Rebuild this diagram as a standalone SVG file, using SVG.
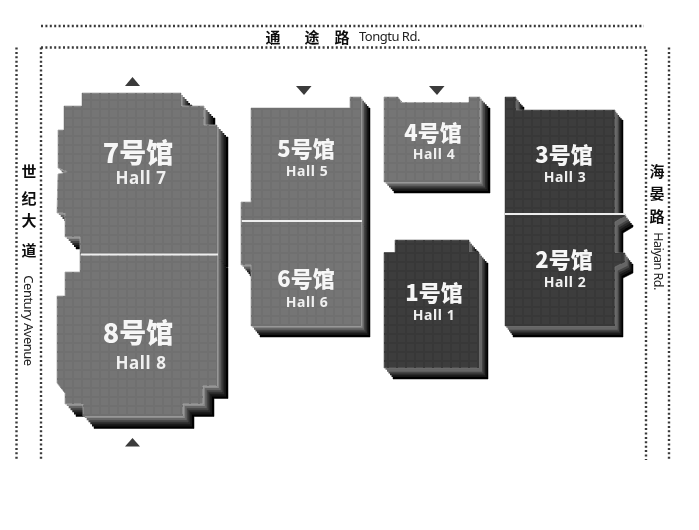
<svg xmlns="http://www.w3.org/2000/svg" width="699" height="530" viewBox="0 0 699 530">
<style>
.e1{fill:#000;stroke:#000;stroke-width:.5}.e2{fill:#161616}.e3{fill:#2a2a2a}.e4{fill:#444}.e5{fill:#666}.e6{fill:#8c8c8c}
.road{fill:none;stroke:#3a3a3a;stroke-width:2.4;stroke-dasharray:2 2.4}
.div{stroke:#eee;stroke-width:2}
.m{fill:#747474;stroke:#a8a8a8;stroke-width:.8}
.d{fill:#3d3d3d;stroke:#777;stroke-width:.7}
.mg{fill:url(#gm);stroke:none}.dg{fill:url(#gd);stroke:none}
.tri{fill:#3a3a3a}
text{font-family:"Noto Sans CJK SC","Noto Sans",sans-serif;text-anchor:middle}
.zh{fill:#f6f6f6;font-weight:900}
.en{fill:#f0f0f0;font-weight:700;font-family:"Noto Sans","Noto Sans CJK SC",sans-serif;letter-spacing:.6px}
.rz{fill:#111;font-size:15px;font-weight:700}
.re{fill:#222;font-size:13px;font-family:"Noto Sans",sans-serif;letter-spacing:-.5px}
</style>
<defs>
<filter id="soft" x="0" y="0" width="100%" height="100%"><feGaussianBlur stdDeviation=".45"/></filter>
<pattern id="gm" width="9" height="9" patternUnits="userSpaceOnUse"><path d="M0 1H9M1 0V9" stroke="#6f6f6f" stroke-width="2" fill="none"/></pattern>
<pattern id="gd" width="9" height="9" patternUnits="userSpaceOnUse"><path d="M0 1H9M1 0V9" stroke="#393939" stroke-width="2" fill="none"/></pattern>
<polygon id="s7" points="82,93 181,93 181,106 204,106 204,125 217,125 217,255 80,255 80,237 65,237 65,213 57,213 58,174 68,172 58,168 58,130 64,130 64,106 82,106"/>
<polygon id="s8" points="80,255 217,255 217,386 203,386 203,404 183,404 183,416 83,416 83,404 65,404 65,393 57,383 57,296 65,296 65,272 80,272"/>
<polygon id="s5" points="251,108 350,108 350,97 361,97 361,221 241,221 241,202 251,202"/>
<polygon id="s6" points="241,221 361,221 361,326 251,326 251,265 241,265"/>
<polygon id="s4" points="384,97 398,97 401,102.500 469,102.500 469,97 480,97 480,182 384,182"/>
<polygon id="s1" points="395,240 469,240 469,252 479,252 479,368 384,368 384,252.500 395,252.500"/>
<polygon id="s3" points="505,97 516,97 516,110 615,110 615,214 505,214"/>
<polygon id="s2" points="505,214 625,214 625,216 615,222 615,253 625,253 625,262 615,267 615,326 505,326"/>
</defs>
<g id="connectors">
<path class="road" d="M41 26H644"/>
<path class="road" d="M41 47.500H646V460"/>
<path class="road" d="M41 47.500V460"/>
<path class="road" d="M16.500 47.500V460"/>
<path class="road" d="M669 47.500V460"/>
</g>
<g filter="url(#soft)">
<g id="road-labels">
<text class="rz" x="273" y="43">通</text><text class="rz" x="312" y="43">途</text><text class="rz" x="342" y="43">路</text>
<text class="re" x="389.500" y="41">Tongtu Rd.</text>
<text class="rz" x="29" y="177">世</text><text class="rz" x="29" y="204">纪</text><text class="rz" x="29" y="226">大</text><text class="rz" x="29" y="256">道</text>
<text class="re" transform="translate(24,320.500) rotate(90)">Century Avenue</text>
<text class="rz" x="657" y="177">海</text><text class="rz" x="657" y="199">晏</text><text class="rz" x="657" y="222">路</text>
<text class="re" style="font-size:12.500px" transform="translate(654,261) rotate(90)">Haiyan Rd.</text>
</g>
<g id="hall-7">
<use href="#s7" x="11" y="12" class="e1"/><use href="#s7" x="9" y="10" class="e2"/><use href="#s7" x="7.300" y="8" class="e3"/><use href="#s7" x="5.500" y="6" class="e4"/><use href="#s7" x="3.700" y="4" class="e5"/><use href="#s7" x="1.800" y="2" class="e6"/>
<use href="#s7" class="m"/><use href="#s7" class="mg"/>
<text class="zh" x="138" y="163" font-size="27">7号馆</text><text class="en" x="141" y="184" font-size="17">Hall 7</text>
</g>
<g id="hall-8">
<use href="#s8" x="11" y="12.500" class="e1"/><use href="#s8" x="9" y="10.400" class="e2"/><use href="#s8" x="7.300" y="8.300" class="e3"/><use href="#s8" x="5.500" y="6.200" class="e4"/><use href="#s8" x="3.700" y="4.200" class="e5"/><use href="#s8" x="1.800" y="2.100" class="e6"/>
<use href="#s8" class="m"/><use href="#s8" class="mg"/>
<text class="zh" x="138" y="343" font-size="27">8号馆</text><text class="en" x="141" y="369" font-size="17">Hall 8</text>
<line class="div" x1="81" y1="254.500" x2="218" y2="254.500"/>
</g>
<g id="hall-5">
<use href="#s5" x="9" y="11" class="e1"/><use href="#s5" x="7.500" y="9" class="e2"/><use href="#s5" x="6" y="7.300" class="e3"/><use href="#s5" x="4.500" y="5.500" class="e4"/><use href="#s5" x="3" y="3.700" class="e5"/><use href="#s5" x="1.500" y="1.800" class="e6"/>
<use href="#s5" class="m"/><use href="#s5" class="mg"/>
<text class="zh" x="306" y="157" font-size="22">5号馆</text><text class="en" x="307" y="176" font-size="14">Hall 5</text>
</g>
<g id="hall-6">
<use href="#s6" x="9" y="11" class="e1"/><use href="#s6" x="7.500" y="9" class="e2"/><use href="#s6" x="6" y="7.300" class="e3"/><use href="#s6" x="4.500" y="5.500" class="e4"/><use href="#s6" x="3" y="3.700" class="e5"/><use href="#s6" x="1.500" y="1.800" class="e6"/>
<use href="#s6" class="m"/><use href="#s6" class="mg"/>
<text class="zh" x="306" y="287" font-size="22">6号馆</text><text class="en" x="307" y="306.500" font-size="14">Hall 6</text>
<line class="div" x1="242" y1="221" x2="362" y2="221"/>
</g>
<g id="hall-4">
<use href="#s4" x="10" y="11" class="e1"/><use href="#s4" x="8.300" y="9" class="e2"/><use href="#s4" x="6.700" y="7.300" class="e3"/><use href="#s4" x="5" y="5.500" class="e4"/><use href="#s4" x="3.300" y="3.700" class="e5"/><use href="#s4" x="1.700" y="1.800" class="e6"/>
<use href="#s4" class="m"/><use href="#s4" class="mg"/>
<text class="zh" x="433" y="141" font-size="22">4号馆</text><text class="en" x="434" y="159" font-size="14">Hall 4</text>
</g>
<g id="hall-1">
<use href="#s1" x="9" y="11" class="e1"/><use href="#s1" x="7.500" y="9" class="e2"/><use href="#s1" x="6" y="7.300" class="e3"/><use href="#s1" x="4.500" y="5.500" class="e4"/><use href="#s1" x="3" y="3.700" class="e5"/><use href="#s1" x="1.500" y="1.800" class="e5"/>
<use href="#s1" class="d"/><use href="#s1" class="dg"/>
<text class="zh" x="434" y="301" font-size="22">1号馆</text><text class="en" x="434" y="320" font-size="14">Hall 1</text>
</g>
<g id="hall-3">
<use href="#s3" x="8" y="10" class="e1"/><use href="#s3" x="6.700" y="8.300" class="e2"/><use href="#s3" x="5.300" y="6.700" class="e3"/><use href="#s3" x="4" y="5" class="e4"/><use href="#s3" x="2.700" y="3.300" class="e5"/><use href="#s3" x="1.300" y="1.700" class="e5"/>
<use href="#s3" class="d"/><use href="#s3" class="dg"/>
<text class="zh" x="564" y="163" font-size="22">3号馆</text><text class="en" x="565" y="182" font-size="14">Hall 3</text>
</g>
<g id="hall-2">
<use href="#s2" x="8" y="11" class="e1"/><use href="#s2" x="6.700" y="9" class="e2"/><use href="#s2" x="5.300" y="7.300" class="e3"/><use href="#s2" x="4" y="5.500" class="e4"/><use href="#s2" x="2.700" y="3.700" class="e5"/><use href="#s2" x="1.300" y="1.800" class="e5"/>
<use href="#s2" class="d"/><use href="#s2" class="dg"/>
<text class="zh" x="564" y="268" font-size="22">2号馆</text><text class="en" x="565" y="287" font-size="14">Hall 2</text>
<line class="div" x1="505" y1="214" x2="625" y2="214"/>
</g>
<g id="entrances">
<polygon class="tri" points="132.500,77 140,86 125,86"/>
<polygon class="tri" points="132.500,438 140,446.500 125,446.500"/>
<polygon class="tri" points="296,86 311.500,86 304,95"/>
<polygon class="tri" points="429,86 444.500,86 437,95"/>
</g>
</g>
</svg>
